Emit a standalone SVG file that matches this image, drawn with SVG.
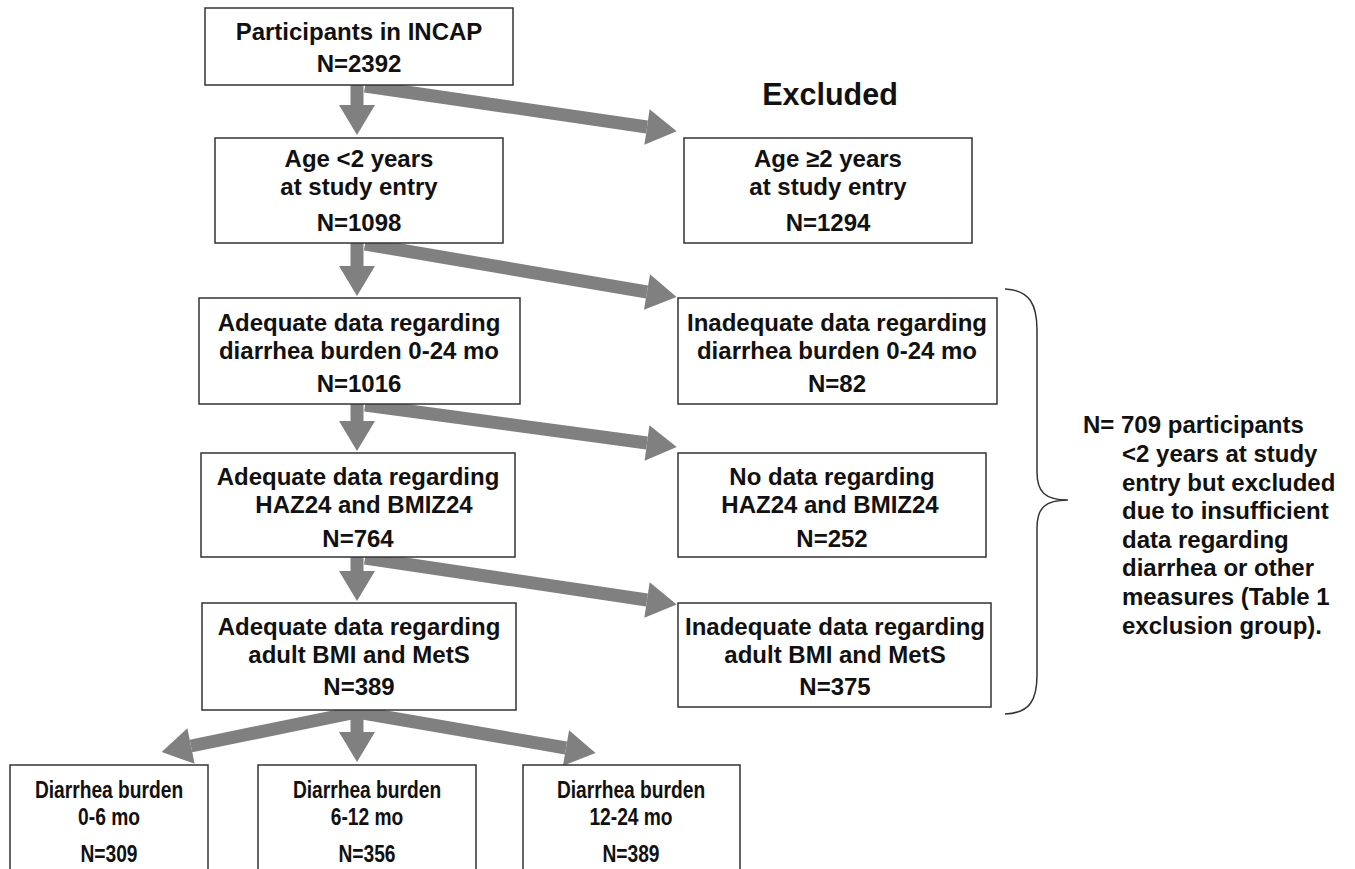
<svg xmlns="http://www.w3.org/2000/svg" width="1355" height="869" viewBox="0 0 1355 869">
<style>
.box{fill:#fff;stroke:#333;stroke-width:1.5}
.t{font-family:"Liberation Sans",Arial,sans-serif;font-weight:bold;font-size:24px;fill:#111;text-anchor:middle}
.n{font-family:"Liberation Sans",Arial,sans-serif;font-weight:bold;font-size:24px;fill:#111}
.c{stroke:#808080;stroke-width:13;fill:none}
</style>
<defs>
<marker id="ah" markerUnits="userSpaceOnUse" markerWidth="30" markerHeight="36" refX="0" refY="18" orient="auto" overflow="visible">
<path d="M0,0 L30,18 L0,36 Z" fill="#808080"/>
</marker>
</defs>
<rect width="1355" height="869" fill="#fff"/>
<g id="connectors">
<line class="c" x1="357" y1="85" x2="357" y2="105" marker-end="url(#ah)"/>
<line class="c" x1="365" y1="86" x2="647" y2="127" marker-end="url(#ah)"/>
<line class="c" x1="357" y1="243" x2="357" y2="266" marker-end="url(#ah)"/>
<line class="c" x1="365" y1="244" x2="647" y2="292" marker-end="url(#ah)"/>
<line class="c" x1="357" y1="404" x2="357" y2="421" marker-end="url(#ah)"/>
<line class="c" x1="365" y1="405" x2="647" y2="443" marker-end="url(#ah)"/>
<line class="c" x1="357" y1="557" x2="357" y2="571" marker-end="url(#ah)"/>
<line class="c" x1="365" y1="558" x2="647" y2="600" marker-end="url(#ah)"/>
<line class="c" x1="357" y1="710" x2="357" y2="732" marker-end="url(#ah)"/>
<line class="c" x1="357" y1="712" x2="191" y2="746" marker-end="url(#ah)"/>
<line class="c" x1="357" y1="712" x2="566" y2="748" marker-end="url(#ah)"/>
</g>
<g id="excluded-label"><text class="t" x="830" y="105" style="font-size:30.5px">Excluded</text></g>
<g id="n1"><rect class="box" x="205" y="8" width="308" height="77"/>
<text class="t" x="359" y="40">Participants in INCAP</text><text class="t" x="359" y="72">N=2392</text></g>
<g id="n2"><rect class="box" x="215" y="138" width="288" height="105"/>
<text class="t" x="359" y="167">Age &lt;2 years</text><text class="t" x="359" y="195">at study entry</text><text class="t" x="359" y="231">N=1098</text></g>
<g id="x1"><rect class="box" x="684" y="138" width="288" height="105"/>
<text class="t" x="828" y="167">Age ≥2 years</text><text class="t" x="828" y="195">at study entry</text><text class="t" x="828" y="231">N=1294</text></g>
<g id="n3"><rect class="box" x="199" y="298" width="321" height="106"/>
<text class="t" x="359" y="331">Adequate data regarding</text><text class="t" x="359" y="359">diarrhea burden 0-24 mo</text><text class="t" x="359" y="392">N=1016</text></g>
<g id="x2"><rect class="box" x="678" y="298" width="319" height="106"/>
<text class="t" x="837" y="331">Inadequate data regarding</text><text class="t" x="837" y="359">diarrhea burden 0-24 mo</text><text class="t" x="837" y="392">N=82</text></g>
<g id="n4"><rect class="box" x="201" y="453" width="314" height="104"/>
<text class="t" x="358" y="485">Adequate data regarding</text><text class="t" x="364" y="513">HAZ24 and BMIZ24</text><text class="t" x="358" y="547">N=764</text></g>
<g id="x3"><rect class="box" x="678" y="453" width="308" height="104"/>
<text class="t" x="832" y="485">No data regarding</text><text class="t" x="830" y="513">HAZ24 and BMIZ24</text><text class="t" x="832" y="547">N=252</text></g>
<g id="n5"><rect class="box" x="202" y="603" width="314" height="107"/>
<text class="t" x="359" y="635">Adequate data regarding</text><text class="t" x="359" y="663">adult BMI and MetS</text><text class="t" x="359" y="695">N=389</text></g>
<g id="x4"><rect class="box" x="678" y="603" width="313" height="104"/>
<text class="t" x="835" y="635">Inadequate data regarding</text><text class="t" x="835" y="663">adult BMI and MetS</text><text class="t" x="835" y="695">N=375</text></g>
<g id="b1"><rect class="box" x="10" y="765" width="198" height="110"/>
<g transform="translate(109,0) scale(0.8,1)"><text class="t" x="0" y="798">Diarrhea burden</text><text class="t" x="0" y="825">0-6 mo</text><text class="t" x="0" y="862">N=309</text></g></g>
<g id="b2"><rect class="box" x="258" y="765" width="218" height="110"/>
<g transform="translate(367,0) scale(0.8,1)"><text class="t" x="0" y="798">Diarrhea burden</text><text class="t" x="0" y="825">6-12 mo</text><text class="t" x="0" y="862">N=356</text></g></g>
<g id="b3"><rect class="box" x="523" y="765" width="217" height="110"/>
<g transform="translate(631,0) scale(0.8,1)"><text class="t" x="0" y="798">Diarrhea burden</text><text class="t" x="0" y="825">12-24 mo</text><text class="t" x="0" y="862">N=389</text></g></g>
<g id="brace"><path d="M1005,289 C1030,290 1037,305 1037,330 L1037,472 C1037,492 1045,500 1068,500 C1045,500 1037,508 1037,528 L1037,675 C1037,700 1030,713 1005,714" fill="none" stroke="#333" stroke-width="1.5"/></g>
<g id="note">
<text class="n" x="1083" y="433">N= 709 participants</text>
<text class="n" x="1122" y="462">&lt;2 years at study</text>
<text class="n" x="1122" y="491">entry but excluded</text>
<text class="n" x="1122" y="519">due to insufficient</text>
<text class="n" x="1122" y="548">data regarding</text>
<text class="n" x="1122" y="576">diarrhea or other</text>
<text class="n" x="1122" y="605">measures (Table 1</text>
<text class="n" x="1122" y="634">exclusion group).</text>
</g>
</svg>
